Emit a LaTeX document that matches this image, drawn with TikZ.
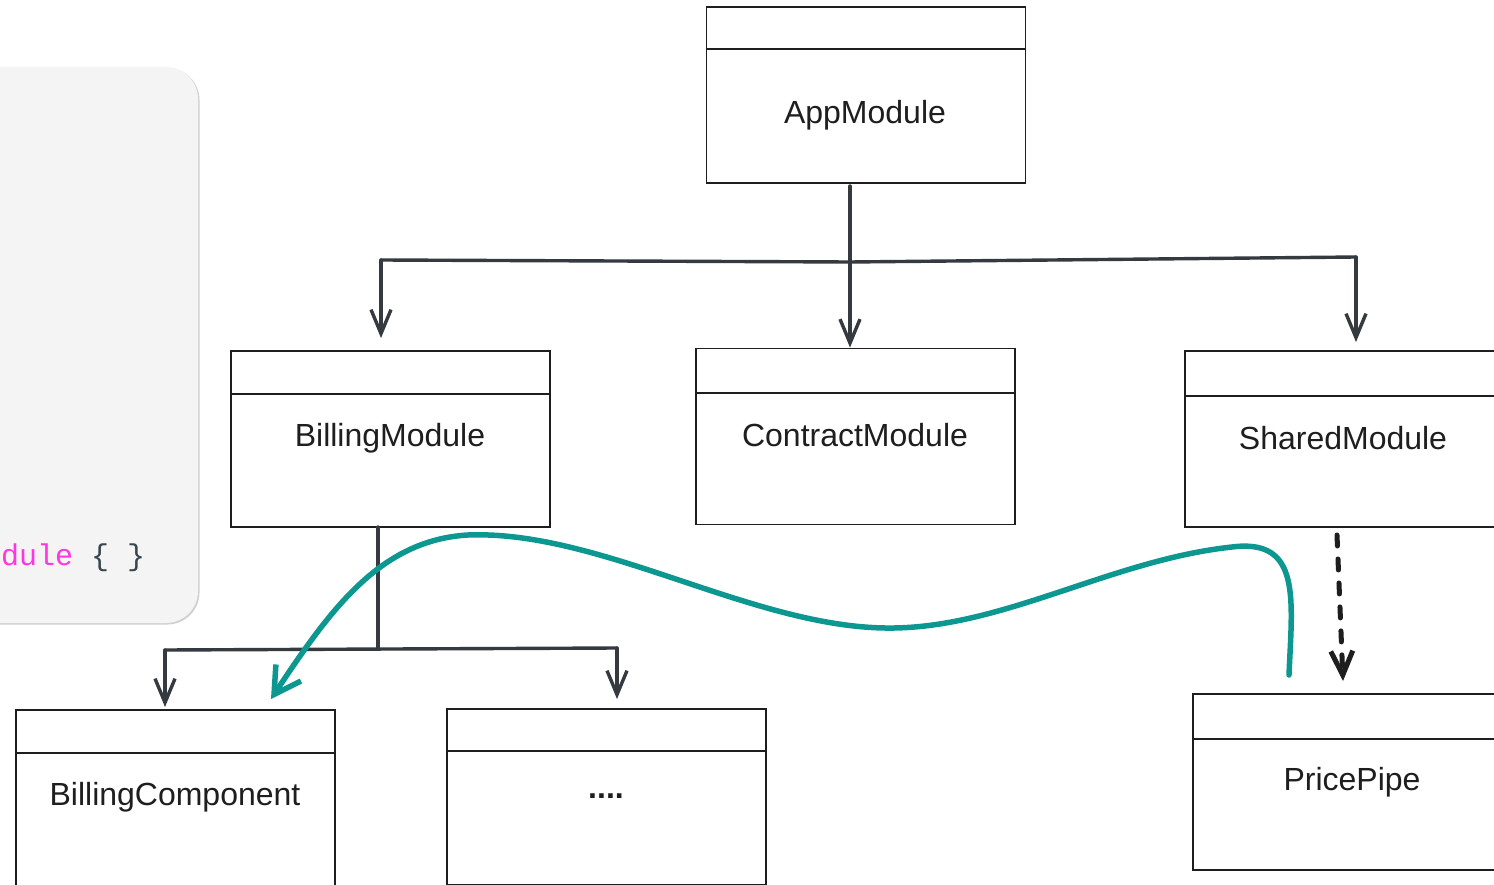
\documentclass[tikz,border=0pt]{standalone}
\usepackage{fontspec}
\setmainfont{Liberation Sans}
\newfontfamily\codefont{Liberation Mono}
\usetikzlibrary{arrows.meta,calc}
\definecolor{ink}{HTML}{1E1E1E}
\definecolor{conncol}{HTML}{343A40}
\definecolor{tealc}{HTML}{0C9891}
\definecolor{panel}{HTML}{F4F4F4}
\definecolor{magentac}{HTML}{FF35E0}
\definecolor{bracec}{HTML}{37474F}
\tikzset{
  modbox/.style={draw=ink, line width=1.9pt, minimum width=319pt, minimum height=176pt, inner sep=0pt},
  divider/.style={draw=ink, line width=2pt},
  modlabel/.style={font=\fontsize{32}{36}\selectfont, text=ink, inner sep=0pt},
  conn/.style={draw=conncol, line width=3.4pt, line cap=round, line join=round},
  barb/.style={-{Straight Barb[length=24pt,width=20pt,line width=3.4pt]}},
  dasharrow/.style={draw=ink, line width=5pt, line cap=round, dash pattern=on 11pt off 13pt, -{Straight Barb[length=24pt,width=22pt,line width=5pt]}},
  tealarrow/.style={draw=tealc, line width=5.5pt, line cap=round, -{Straight Barb[length=26pt,width=30pt,line width=5.5pt]}}
}
\begin{document}
\begin{tikzpicture}[x=1pt,y=-1pt]
\useasboundingbox (0,0) rectangle (1494,885);
\clip (0,0) rectangle (1494,885);
\fill[white] (0,0) rectangle (1494,885);
% left code panel
\fill[black!18, rounded corners=32pt] (-40,68) rectangle (199.5,624.5);
\fill[panel, rounded corners=32pt] (-40,67) rectangle (198,623);
\node[anchor=base west, inner sep=0pt, font=\codefont\fontsize{30}{32}\selectfont] (code) at (1,565) {\textcolor{magentac}{dule} \textcolor{bracec}{\{ \}}};
% module boxes
\node[modbox] (app) at (866,95) {};
\node[modbox] (billing) at (390.5,439) {};
\node[modbox] (contract) at (855.5,436.5) {};
\node[modbox] (shared) at (1344.5,439) {};
\node[modbox] (bcomp) at (175.5,798) {};
\node[modbox] (dots) at (606.5,797) {};
\node[modbox] (price) at (1352.5,782) {};
% dividers
\foreach \b/\d in {app/43,billing/44,contract/45,shared/46,bcomp/44,dots/43,price/46}{
  \draw[divider] ([yshift=-\d pt]\b.north west) -- ([yshift=-\d pt]\b.north east);
}
% labels
\node[modlabel] (appl) at (865,115) {AppModule};
\node[modlabel] (billingl) at (390,438) {BillingModule};
\node[modlabel] (contractl) at (855,435) {ContractModule};
\node[modlabel] (sharedl) at (1343,438) {SharedModule};
\node[modlabel] (bcompl) at (175,797) {BillingComponent};
\node[modlabel, font=\bfseries\fontsize{32}{36}\selectfont] (dotsl) at (606,796) {....};
\node[modlabel] (pricel) at (1352,782) {PricePipe};
% connectors from AppModule
\coordinate (appout) at (850,186);
\coordinate (jL) at (381,260);
\coordinate (jR) at (1356,257);
\draw[conn,barb] (appout) -- (contract.north -| appout);
\draw[conn] (jL) -- (850,262) -- (jR);
\draw[conn,barb] (jL) -- ([yshift=12pt]billing.north -| jL);
\draw[conn,barb] (jR) -- ([yshift=8pt]shared.north -| jR);
% connectors from BillingModule
\coordinate (bout) at (378,527);
\coordinate (bL) at (165,650);
\coordinate (bR) at (617,648);
\draw[conn] (bout) -- (378,649);
\draw[conn] (bL) -- (bR);
\draw[conn,barb] (bL) -- ([yshift=2pt]bcomp.north -| bL);
\draw[conn,barb] (bR) -- ([yshift=9pt]dots.north -| bR);
% dashed arrow SharedModule -> PricePipe
\coordinate (sout) at (1337,535);
\coordinate (pin) at (1343,681);
\draw[dasharrow] (sout) -- (pin);
% teal curve
\coordinate (tstart) at (1289,675);
\coordinate (tend) at (271,699);
\draw[tealarrow] (tstart) .. controls (1292,600) and (1302,538) .. (1232,547)
  .. controls (1110,560) and (1000,630) .. (885,628)
  .. controls (750,626) and (600,530) .. (468,535)
  .. controls (380,540) and (330,610) .. (tend);
\end{tikzpicture}
\end{document}
